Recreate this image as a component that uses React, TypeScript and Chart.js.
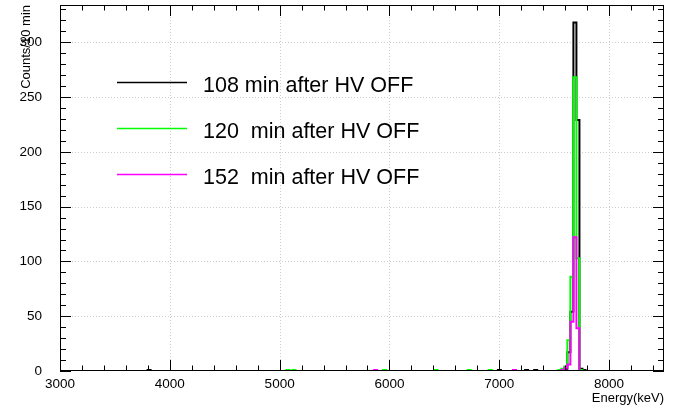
import { useEffect, useRef } from "react";
import { Chart, registerables } from "chart.js";

Chart.register(...registerables);

// ---- axis / binning ----
const X_MIN = 3000;
const X_MAX = 8500;
const BIN_WIDTH = 27.5;
const Y_MIN = 0;
const Y_MAX = 334;
const xTicks = [3000, 4000, 5000, 6000, 7000, 8000];
const yTicks = [0, 50, 100, 150, 200, 250, 300];
const X_MINOR = 200;
const Y_MINOR = 10;

// ---- series (non-empty bins: an energy inside the bin, and its counts) ----
const seriesLabels = ["108 min after HV OFF", "120  min after HV OFF", "152  min after HV OFF"];
const seriesColors = ["#000000", "#00ff00", "#ff00ff"];

const e108 = [3810, 6990, 7250, 7335, 7606, 7634, 7661, 7689, 7716, 7744, 7771];
const n108 = [1, 1, 1, 1, 2, 17, 54, 318, 229, 2, 1];

const e120 = [5072, 5136, 5951, 6411, 6732, 6926, 7551, 7579, 7606, 7634, 7661, 7689, 7716, 7744];
const n120 = [1, 1, 1, 1, 1, 1, 1, 2, 4, 28, 86, 268, 103, 1];

const e152 = [5868, 7150, 7579, 7606, 7634, 7661, 7689, 7716];
const n152 = [1, 1, 1, 3, 6, 45, 122, 39];

const FONT = "'Liberation Sans', Arial, Helvetica, sans-serif";

function toSteps(es: number[], ns: number[]) {
  const nb = Math.round((X_MAX - X_MIN) / BIN_WIDTH);
  const counts = new Array(nb).fill(0);
  es.forEach((e, i) => {
    const k = Math.floor((e - X_MIN) / BIN_WIDTH);
    if (k >= 0 && k < nb) counts[k] += ns[i];
  });
  const pts = counts.map((c, k) => ({ x: X_MIN + k * BIN_WIDTH, y: c }));
  pts.push({ x: X_MAX, y: counts[nb - 1] });
  return pts;
}

const rootStyle = {
  id: "rootStyle",
  beforeDatasetsDraw(chart: any) {
    const { ctx, chartArea: a, scales } = chart;
    const xs = scales.x, ys = scales.y;
    ctx.save();
    ctx.strokeStyle = "#cccccc";
    ctx.lineWidth = 1;
    ctx.setLineDash([1, 2]);
    xTicks.forEach((v) => {
      if (v <= X_MIN || v >= X_MAX) return;
      const px = Math.round(xs.getPixelForValue(v)) + 0.5;
      ctx.beginPath();
      ctx.moveTo(px, a.top);
      ctx.lineTo(px, a.bottom);
      ctx.stroke();
    });
    yTicks.forEach((v) => {
      if (v <= Y_MIN || v >= Y_MAX) return;
      const py = Math.round(ys.getPixelForValue(v)) + 0.5;
      ctx.beginPath();
      ctx.moveTo(a.left, py);
      ctx.lineTo(a.right, py);
      ctx.stroke();
    });
    ctx.restore();
  },
  afterDatasetsDraw(chart: any) {
    const { ctx, chartArea: a, scales } = chart;
    const xs = scales.x, ys = scales.y;
    ctx.save();
    ctx.setLineDash([]);
    ctx.strokeStyle = "#000";
    ctx.lineWidth = 1;
    // frame
    ctx.strokeRect(Math.round(a.left) + 0.5, Math.round(a.top) + 0.5, Math.round(a.right - a.left) - 1, Math.round(a.bottom - a.top) - 1);
    // x ticks (bottom + top, inward)
    for (let v = X_MIN; v <= X_MAX + 1e-6; v += X_MINOR) {
      const major = xTicks.includes(v);
      const len = major ? 11 : 5.5;
      const px = Math.round(xs.getPixelForValue(v)) + 0.5;
      ctx.beginPath();
      ctx.moveTo(px, a.bottom);
      ctx.lineTo(px, a.bottom - len);
      ctx.moveTo(px, a.top);
      ctx.lineTo(px, a.top + len);
      ctx.stroke();
    }
    // y ticks (left + right, inward)
    for (let v = Y_MIN; v <= Y_MAX + 1e-6; v += Y_MINOR) {
      const major = yTicks.includes(v);
      const len = major ? 11 : 6;
      const py = Math.round(ys.getPixelForValue(v)) + 0.5;
      ctx.beginPath();
      ctx.moveTo(a.left, py);
      ctx.lineTo(a.left + len, py);
      ctx.moveTo(a.right, py);
      ctx.lineTo(a.right - len, py);
      ctx.stroke();
    }
    // axis titles
    ctx.fillStyle = "#000";
    ctx.font = `13px ${FONT}`;
    ctx.textAlign = "right";
    ctx.textBaseline = "alphabetic";
    ctx.fillText("Energy(keV)", a.right, 402);
    ctx.save();
    ctx.translate(30, a.top);
    ctx.rotate(-Math.PI / 2);
    ctx.textAlign = "right";
    ctx.fillText("Counts/10 min", 0, 0);
    ctx.restore();
    // legend
    const legendY = [82.5, 128.5, 174.5];
    chart.data.datasets.forEach((ds: any, i: number) => {
      const y = legendY[i];
      ctx.strokeStyle = ds.borderColor;
      ctx.lineWidth = 1.5;
      ctx.beginPath();
      ctx.moveTo(117, y);
      ctx.lineTo(187, y);
      ctx.stroke();
      ctx.fillStyle = "#000";
      ctx.font = `21.5px ${FONT}`;
      ctx.textAlign = "left";
      ctx.textBaseline = "alphabetic";
      ctx.fillText(ds.label, 203, y + 9.5);
    });
    ctx.restore();
  },
};

export default function App() {
  const ref = useRef<HTMLCanvasElement | null>(null);
  useEffect(() => {
    if (!ref.current) return;
    const series = [
      { e: e108, n: n108, order: 3 },
      { e: e120, n: n120, order: 2 },
      { e: e152, n: n152, order: 1 },
    ];
    const chart = new Chart(ref.current, {
      type: "line",
      data: {
        datasets: series.map((s, i) => ({
          label: seriesLabels[i],
          data: toSteps(s.e, s.n),
          borderColor: seriesColors[i],
          backgroundColor: seriesColors[i],
          borderWidth: 2,
          pointRadius: 0,
          stepped: true,
          tension: 0,
          fill: false,
          order: s.order,
        })),
      },
      options: {
        animation: false,
        responsive: false,
        events: [],
        layout: { padding: { top: 5, right: 11, left: 0, bottom: 0 } },
        plugins: { legend: { display: false }, tooltip: { enabled: false }, title: { display: false } },
        scales: {
          x: {
            type: "linear",
            min: X_MIN,
            max: X_MAX,
            afterBuildTicks: (s: any) => {
              s.ticks = xTicks.map((v) => ({ value: v }));
            },
            afterFit: (s: any) => {
              s.height = 35;
              s.paddingLeft = 0;
              s.paddingRight = 0;
              s.paddingTop = 0;
              s.paddingBottom = 0;
            },
            grid: { display: false },
            border: { display: false },
            ticks: {
              color: "#000",
              font: { family: FONT, size: 13.5 },
              padding: -3,
              maxRotation: 0,
              autoSkip: false,
              callback: (v: any) => String(v),
            },
          },
          y: {
            type: "linear",
            min: Y_MIN,
            max: Y_MAX,
            afterBuildTicks: (s: any) => {
              s.ticks = yTicks.map((v) => ({ value: v }));
            },
            afterFit: (s: any) => {
              s.width = 60;
              s.paddingLeft = 0;
              s.paddingRight = 0;
              s.paddingTop = 0;
              s.paddingBottom = 0;
            },
            grid: { display: false },
            border: { display: false },
            ticks: {
              color: "#000",
              font: { family: FONT, size: 13.5 },
              padding: 10,
              autoSkip: false,
              callback: (v: any) => String(v),
            },
          },
        },
      },
      plugins: [rootStyle],
    } as any);
    return () => chart.destroy();
  }, []);
  return (
    <div style={{ position: "absolute", left: 0, top: 0, width: 675, height: 406, background: "#fff" }}>
      <canvas ref={ref} width={675} height={406} style={{ width: 675, height: 406, display: "block" }} />
    </div>
  );
}
